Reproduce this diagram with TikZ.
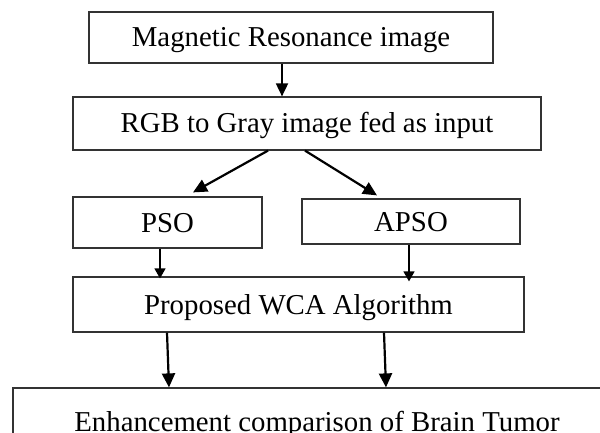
\documentclass[tikz,border=0pt]{standalone}
\usepackage{fontspec}
\setmainfont{Liberation Serif}
\usetikzlibrary{arrows.meta}
\begin{document}
\begin{tikzpicture}[x=1pt,y=-1pt,
  box/.style={draw=black!80, line width=1.2pt, inner sep=0pt, text height=19pt, text depth=0pt, font=\fontsize{28.8}{34}\selectfont},
  arr/.style={line width=2.2pt, -{Triangle[length=14pt,width=13pt]}},
  thinarr/.style={line width=1.3pt, -{Triangle[length=10pt,width=11pt]}}]
\useasboundingbox (0,0) rectangle (600,433);
\clip (0,0) rectangle (600,433);
\node[box, minimum width=404pt, minimum height=51pt] (mri) at (291,37.5) {Magnetic Resonance image};
\node[box, minimum width=468pt, minimum height=53pt] (rgb) at (307,123.5) {RGB to Gray image fed as input};
\node[box, minimum width=189pt, minimum height=51pt] (pso) at (167.5,222.5) {PSO};
\node[box, minimum width=218pt, minimum height=45pt] (apso) at (411,221.5) {APSO};
\node[box, minimum width=451pt, minimum height=55pt] (wca) at (298.5,304.5) {Proposed WCA Algorithm};
\node[box, minimum width=608pt, minimum height=67pt] (out) at (317,421.5) {Enhancement comparison of Brain Tumor};
\draw[arr, line width=1.8pt, -{Triangle[length=13pt,width=12pt]}] ([xshift=-9pt]mri.south) -- ([xshift=-25pt]rgb.north);
\draw[arr] ([xshift=-39pt]rgb.south) -- ([shift={(25.5,-4)}]pso.north);
\draw[arr] ([xshift=-2pt]rgb.south) -- ([shift={(-34,-3)}]apso.north);
\draw[thinarr] ([xshift=-7.5pt]pso.south) -- ([xshift=-138.5pt,yshift=-2pt]wca.north);
\draw[thinarr] ([xshift=-2pt]apso.south) -- ([xshift=110.5pt,yshift=-5pt]wca.north);
\draw[arr] ([xshift=-131.5pt]wca.south) -- ([xshift=-148pt]out.north);
\draw[arr] ([xshift=85.5pt]wca.south) -- ([xshift=69pt]out.north);
\end{tikzpicture}
\end{document}
